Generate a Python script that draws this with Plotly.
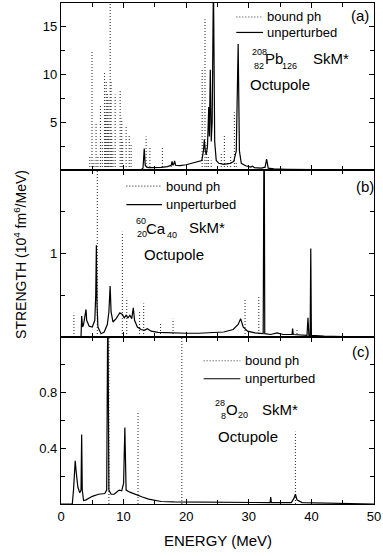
import plotly.graph_objects as go
from plotly.subplots import make_subplots

# ---------------- data ----------------
# (a) 208Pb, unperturbed response (solid)
pb_energy = [0, 10, 12.8, 13.1, 13.3, 13.45, 13.7, 14.0, 15.0, 16.0, 17.0, 17.6, 17.75, 17.85,
             18.0, 18.15, 18.3, 19.0, 20.0, 21.0, 22.0, 22.5, 22.75, 22.9, 23.05, 23.2, 23.4,
             23.6, 23.7, 23.85, 24.0, 24.15, 24.35, 24.55, 24.8, 25.2, 26.0, 27.0, 27.6, 28.0,
             28.3, 28.5, 28.8, 29.5, 30.3, 30.6, 30.9, 32.0, 32.6, 32.85, 33.1, 34.0, 36.0,
             40.0, 45.0, 50.0]
pb_strength = [0, 0, 0.02, 0.2, 2.26, 0.5, 0.3, 0.25, 0.25, 0.28, 0.35, 0.5, 0.9, 0.5,
               0.6, 0.95, 0.5, 0.45, 0.55, 0.7, 0.85, 1.0, 2.0, 3.2, 2.0, 1.6, 2.5,
               6.6, 3.5, 10.5, 3.0, 5.0, 20.0, 3.0, 1.0, 0.7, 0.6, 0.7, 0.9, 2.0,
               13.2, 2.0, 0.7, 0.45, 0.3, 0.4, 0.25, 0.2, 0.3, 1.15, 0.2, 0.12, 0.08,
               0.03, 0.01, 0]
# (a) bound ph (dotted)
pb_bound_energy = [4.6, 4.95, 5.25, 5.6, 5.9, 6.3, 6.6, 6.95, 7.1, 7.22, 7.4, 7.55, 7.65, 7.86,
                   8.0, 8.1, 8.3, 8.65, 9.45, 9.7, 9.85, 10.4, 10.9, 11.2, 12.4, 13.6, 14.2,
                   16.2, 17.6, 22.55, 23.0, 23.3, 23.55, 24.0, 25.0, 25.6, 26.1, 26.6, 27.1,
                   27.7, 28.0, 29.0]
pb_bound_strength = [1.4, 12.5, 1.0, 4.9, 1.5, 6.7, 3.0, 10.2, 6.0, 9.3, 8.0, 5.0, 7.5, 25.0,
                     9.3, 4.0, 2.5, 7.9, 8.5, 5.4, 3.0, 4.5, 3.7, 2.8, 0.3, 3.5, 2.4,
                     2.3, 0.5, 10.7, 15.8, 2.8, 1.5, 1.0, 0.5, 1.7, 3.6, 0.8, 1.5,
                     6.05, 0.8, 0.3]

# (b) 60Ca
ca_energy = [0, 3.2, 3.3, 3.45, 3.6, 3.9, 4.0, 4.1, 4.5, 5.0, 5.4, 5.55, 5.65, 5.75, 5.9, 6.4,
             6.9, 7.4, 7.65, 7.85, 8.0, 8.3, 8.8, 9.4, 9.8, 10.1, 10.4, 10.7, 11.0, 11.3, 11.55,
             11.75, 12.2, 12.8, 13.3, 13.8, 14.4, 15.5, 17.0, 18.0, 20.0, 22.0, 24.0, 26.0,
             27.5, 28.3, 28.7, 29.1, 29.8, 31.0, 32.3, 32.45, 32.55, 33.5, 34.5, 35.5, 36.9,
             37.0, 37.1, 39.3, 39.45, 39.6, 39.8, 39.9, 40.0, 42.0, 45.0, 50.0]
ca_strength = [0, 0, 0.25, 0.12, 0.15, 0.28, 0.33, 0.2, 0.13, 0.12, 0.2, 0.5, 1.1, 0.4, 0.12, 0.04,
               0.06, 0.15, 0.3, 0.61, 0.3, 0.18, 0.22, 0.29, 0.27, 0.23, 0.26, 0.23, 0.26, 0.22, 0.35,
               0.2, 0.12, 0.09, 0.08, 0.1, 0.07, 0.055, 0.05, 0.055, 0.045, 0.045, 0.05, 0.06,
               0.09, 0.15, 0.22, 0.12, 0.07, 0.05, 0.04, 3.0, 0.04, 0.03, 0.05, 0.03, 0.03,
               0.1, 0.03, 0.02, 0.23, 0.02, 0.02, 1.06, 0.02, 0.01, 0.005, 0]
ca_bound_energy = [2.06, 5.8, 9.8, 10.5, 12.55, 13.2, 15.9, 17.9, 29.4, 31.6, 37.7]
ca_bound_strength = [0.29, 3.0, 1.26, 0.47, 0.3, 0.4, 0.18, 0.22, 0.46, 0.49, 0.09]

# (c) 28O
o_energy = [0, 1.8, 2.0, 2.15, 2.27, 2.45, 2.7, 3.0, 3.2, 3.3, 3.4, 3.6, 4.0, 5.0, 6.0, 7.0,
            7.3, 7.48, 7.65, 8.0, 8.5, 9.0, 9.3, 9.7, 10.0, 10.2, 10.4, 11.0, 12.0, 13.0, 14.0,
            15.0, 16.0, 18.0, 20.0, 25.0, 30.0, 33.4, 33.5, 33.6, 36.8, 37.2, 37.45, 37.7, 38.5,
            45.0, 50.0]
o_strength = [0, 0, 0.1, 0.25, 0.31, 0.22, 0.12, 0.08, 0.1, 0.5, 0.1, 0.025, 0.03, 0.055, 0.07, 0.075,
              0.1, 1.5, 0.1, 0.07, 0.07, 0.09, 0.1, 0.095, 0.15, 0.55, 0.1, 0.085, 0.065, 0.05, 0.035,
              0.025, 0.018, 0.015, 0.015, 0.014, 0.012, 0.01, 0.05, 0.01, 0.01, 0.04, 0.07, 0.03, 0.01,
              0.002, 0]
o_bound_energy = [7.65, 12.3, 19.3, 37.45]
o_bound_strength = [1.5, 0.67, 1.5, 0.52]

y_ranges = [[0, 17.5], [0, 2.0], [0, 1.2]]
y_tickvals = [[5, 10, 15], [1], [0.4, 0.8]]
y_ticktext = [["5", "10", "15"], ["1"], ["0.4", "0.8"]]
y_minor = [2.5, 0.5, 0.2]
x_ticks = [0, 10, 20, 30, 40, 50]

# ---------------- figure ----------------
W, H = 383, 556
L, R, T, B = 61, 6, 2, 52
PW, PH = W - L - R, H - T - B
FONT = "Arial, Liberation Sans, sans-serif"
DOT_COLOR = "#3a3a3a"
DOT_DASH = "1px,2px"

fig = make_subplots(rows=3, cols=1, shared_xaxes=True, vertical_spacing=0)

panels = [(pb_energy, pb_strength, pb_bound_energy, pb_bound_strength),
          (ca_energy, ca_strength, ca_bound_energy, ca_bound_strength),
          (o_energy, o_strength, o_bound_energy, o_bound_strength)]

for i, (E, S, bE, bS) in enumerate(panels):
    xs, ys = [], []
    for e, s in zip(bE, bS):
        xs += [e, e, None]
        ys += [0, s, None]
    fig.add_trace(go.Scatter(x=xs, y=ys, mode="lines",
                             line=dict(color=DOT_COLOR, width=1.1, dash=DOT_DASH),
                             hoverinfo="skip", showlegend=False), row=i + 1, col=1)
    fig.add_trace(go.Scatter(x=E, y=S, mode="lines",
                             line=dict(color="black", width=1.2),
                             showlegend=False), row=i + 1, col=1)
    fig.update_yaxes(range=y_ranges[i], tickmode="array", tickvals=y_tickvals[i],
                     ticktext=y_ticktext[i], ticks="inside", ticklen=5, tickwidth=1,
                     tickcolor="black", showline=True, linecolor="black", linewidth=1.3,
                     mirror="ticks", showgrid=False, zeroline=False,
                     tickfont=dict(family=FONT, size=13, color="black"),
                     minor=dict(dtick=y_minor[i], tick0=0, ticks="inside", ticklen=4,
                                tickcolor="black", showgrid=False),
                     row=i + 1, col=1)
    fig.update_xaxes(range=[0, 50], tickmode="array", tickvals=x_ticks,
                     ticks="inside", ticklen=5, tickwidth=1, tickcolor="black",
                     showline=True, linecolor="black", linewidth=1.3, mirror="ticks",
                     showgrid=False, zeroline=False, showticklabels=(i == 2),
                     ticklabeloverflow="allow",
                     tickfont=dict(family=FONT, size=13, color="black"),
                     minor=dict(dtick=5, tick0=0, ticks="inside", ticklen=4,
                                tickcolor="black", showgrid=False),
                     row=i + 1, col=1)


def px(x):
    return (x - L) / PW


def py(y):
    return (H - B - y) / PH


def text(s, x, y, size, anchor="left"):
    fig.add_annotation(text=s, x=px(x), y=py(y), xref="paper", yref="paper",
                       xanchor=anchor, yanchor="middle", showarrow=False,
                       font=dict(family=FONT, size=size, color="black"))


def legend(x0, x1, y_dot, y_solid, tx):
    fig.add_shape(type="line", xref="paper", yref="paper", x0=px(x0), x1=px(x1),
                  y0=py(y_dot), y1=py(y_dot),
                  line=dict(color=DOT_COLOR, width=1.1, dash=DOT_DASH))
    fig.add_shape(type="line", xref="paper", yref="paper", x0=px(x0), x1=px(x1),
                  y0=py(y_solid), y1=py(y_solid), line=dict(color="black", width=1.2))
    text("bound ph", tx, y_dot, 13)
    text("unperturbed", tx, y_solid, 13)


# panel (a)
legend(238, 265, 16, 31.5, 267)
text("(a)", 352, 15, 15)
text("208", 252, 51.5, 9)
text("82", 254, 65, 9)
text("Pb", 265, 58, 15)
text("126", 282, 65, 9)
text("SkM*", 313, 58, 15)
text("Octupole", 250, 83.5, 15)

# panel (b)
legend(127, 163, 185.5, 204, 165)
text("(b)", 357, 186, 15)
text("60", 135, 220.5, 9)
text("20", 135.5, 233.5, 9)
text("Ca", 145, 227.5, 15)
text("40", 166.5, 234, 9)
text("SkM*", 188, 227, 15)
text("Octupole", 143, 254, 15)

# panel (c)
legend(205, 242, 360.5, 378.5, 245)
text("(c)", 353, 351.5, 15)
text("28", 214.5, 402.5, 9)
text("8", 221, 415.5, 9)
text("O", 225.5, 409, 15)
text("20", 238, 415, 9)
text("SkM*", 262, 409, 15)
text("Octupole", 217, 436, 15)

# axis titles
fig.add_annotation(text="STRENGTH (10<sup>4</sup> fm<sup>6</sup>/MeV)", x=px(20), y=py(254),
                   xref="paper", yref="paper", textangle=-90, showarrow=False,
                   xanchor="center", yanchor="middle",
                   font=dict(family=FONT, size=14, color="black"))
fig.add_annotation(text="ENERGY (MeV)", x=px(219), y=py(541), xref="paper", yref="paper",
                   showarrow=False, xanchor="center", yanchor="middle",
                   font=dict(family=FONT, size=15, color="black"))

fig.update_layout(width=W, height=H, margin=dict(l=L, r=R, t=T, b=B),
                  plot_bgcolor="white", paper_bgcolor="white", showlegend=False)

fig.write_html("out.html")
